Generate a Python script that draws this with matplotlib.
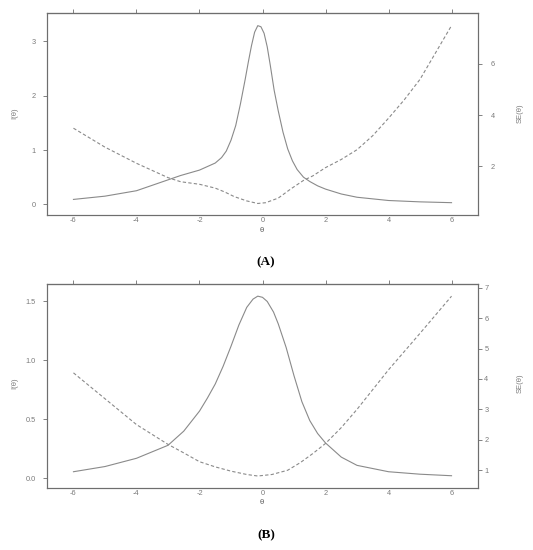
import matplotlib

matplotlib.use("Agg")

import matplotlib.pyplot as plt

# 面板 A: 信息函数 I(θ) 与标准误 SE(θ)
theta_info_a = [-6, -5, -4, -3, -2.6, -2, -1.5, -1.3, -1.15, -1.0, -0.85, -0.7, -0.55,
                -0.45, -0.35, -0.25, -0.15, -0.05, 0.05, 0.15, 0.25, 0.37, 0.5, 0.65,
                0.8, 0.95, 1.1, 1.3, 1.5, 1.75, 2, 2.5, 3, 4, 5, 6]
info_a = [0.09, 0.15, 0.25, 0.45, 0.53, 0.63, 0.76, 0.86, 0.98, 1.18, 1.45, 1.85, 2.3,
          2.62, 2.92, 3.17, 3.29, 3.27, 3.15, 2.9, 2.55, 2.1, 1.72, 1.33,
          1.02, 0.80, 0.64, 0.50, 0.42, 0.34, 0.28, 0.19, 0.13, 0.07, 0.045, 0.03]

theta_se_a = [-6, -5, -4, -3, -2.6, -2, -1.5, -1.2, -0.9, -0.5, -0.15, 0.1, 0.5,
              0.9, 1.3, 1.6, 2, 2.5, 3, 3.5, 4, 4.5, 5, 5.5, 6]
se_a = [3.49, 2.75, 2.12, 1.56, 1.40, 1.30, 1.15, 1.0, 0.82, 0.65, 0.55, 0.58, 0.76,
        1.12, 1.45, 1.63, 1.95, 2.27, 2.65, 3.2, 3.88, 4.6, 5.4, 6.45, 7.5]

# 面板 B
theta_info_b = [-6, -5, -4, -3, -2.5, -2, -1.75, -1.5, -1.25, -1, -0.75, -0.5, -0.3,
                -0.15, 0, 0.15, 0.35, 0.5, 0.75, 1, 1.25, 1.5, 1.75, 2, 2.5, 3, 4, 5, 6]
info_b = [0.056, 0.10, 0.17, 0.28, 0.40, 0.57, 0.68, 0.80, 0.95, 1.12, 1.30, 1.45, 1.52,
          1.545, 1.535, 1.50, 1.41, 1.31, 1.11, 0.87, 0.65, 0.49, 0.38, 0.30, 0.18,
          0.11, 0.056, 0.035, 0.022]

theta_se_b = [-6, -5, -4, -3, -2.5, -2, -1.5, -1, -0.5, -0.15, 0.3, 0.8, 1.2, 1.6,
              2, 2.5, 3, 4, 5, 6]
se_b = [4.2, 3.35, 2.5, 1.85, 1.57, 1.28, 1.11, 0.97, 0.86, 0.81, 0.86, 1.0, 1.25,
        1.55, 1.88, 2.4, 3.0, 4.3, 5.5, 6.72]

x_ticks = [-6, -4, -2, 0, 2, 4, 6]

line_color = "#8a8a8a"
axis_color = "#6e6e6e"
text_color = "#7a7a7a"

plt.rcParams["font.family"] = ["Liberation Sans", "DejaVu Sans"]

fig = plt.figure(figsize=(5.33, 5.5), dpi=100)


def draw_panel(rect, th_i, info, th_se, se, ylim_l, ylim_r, yticks_l, yticklabels_l,
               yticks_r, right_pad):
    ax = fig.add_axes(rect)
    ax.plot(th_i, info, "-", color=line_color, lw=0.8)
    ax.set_xlim(-6.84, 6.84)
    ax.set_ylim(*ylim_l)
    ax.set_xticks(x_ticks)
    ax.set_xticklabels([str(v) for v in x_ticks])
    # 底部只留标签，不画刻度线
    ax.tick_params(axis="x", length=0, labelsize=5.3, labelcolor=text_color, pad=1.5)
    ax.set_yticks(yticks_l)
    ax.set_yticklabels(yticklabels_l)
    ax.tick_params(axis="y", direction="out", length=3, width=0.6, color=axis_color,
                   labelsize=5.3, labelcolor=text_color, pad=5)
    for sp in ax.spines.values():
        sp.set_color(axis_color)
        sp.set_linewidth(0.8)

    # 顶部刻度线
    top = ax.secondary_xaxis("top")
    top.set_xticks(x_ticks)
    top.set_xticklabels([])
    top.tick_params(axis="x", direction="out", length=3, width=0.6, color=axis_color)
    top.spines["top"].set_color(axis_color)
    top.spines["top"].set_linewidth(0.8)

    ax2 = ax.twinx()
    ax2.plot(th_se, se, color=line_color, lw=0.8, linestyle=(0, (3, 2)))
    ax2.set_ylim(*ylim_r)
    ax2.set_yticks(yticks_r)
    ax2.tick_params(axis="y", direction="out", length=3, width=0.6, color=axis_color,
                    labelsize=5.3, labelcolor=text_color, pad=right_pad)
    for sp in ax2.spines.values():
        sp.set_color(axis_color)
        sp.set_linewidth(0.8)
    return ax


draw_panel([47 / 533, 1 - 215 / 550, 431 / 533, 202 / 550],
           theta_info_a, info_a, theta_se_a, se_a,
           (-0.197, 3.523), (0.10, 7.99),
           [0, 1, 2, 3], ["0", "1", "2", "3"], [2, 4, 6], 6)

draw_panel([47 / 533, 1 - 488 / 550, 431 / 533, 204 / 550],
           theta_info_b, info_b, theta_se_b, se_b,
           (-0.082, 1.648), (0.416, 7.12),
           [0, 0.5, 1.0, 1.5], ["0.0", "0.5", "1.0", "1.5"], [1, 2, 3, 4, 5, 6, 7], 1.5)

# 坐标轴标题与面板标签
for yc, tag, ytag, ylab in [(113, "(A)", 262, 231), (383, "(B)", 535, 503)]:
    fig.text(15 / 533, 1 - yc / 550, "I(θ)", rotation=90, ha="center", va="center",
             fontsize=5.5, color=text_color)
    fig.text(520 / 533, 1 - yc / 550, "SE(θ)", rotation=90, ha="center", va="center",
             fontsize=5.5, color=text_color)
    fig.text(262 / 533, 1 - ylab / 550, "θ", ha="center", va="center",
             fontsize=5.5, color="#555555")
    fig.text(266 / 533, 1 - ytag / 550, tag, ha="center", va="center",
             fontsize=9.5, fontweight="bold", family="Liberation Serif", color="black")

plt.savefig("out.png", dpi=100)
print("save plot image to: out.png")
